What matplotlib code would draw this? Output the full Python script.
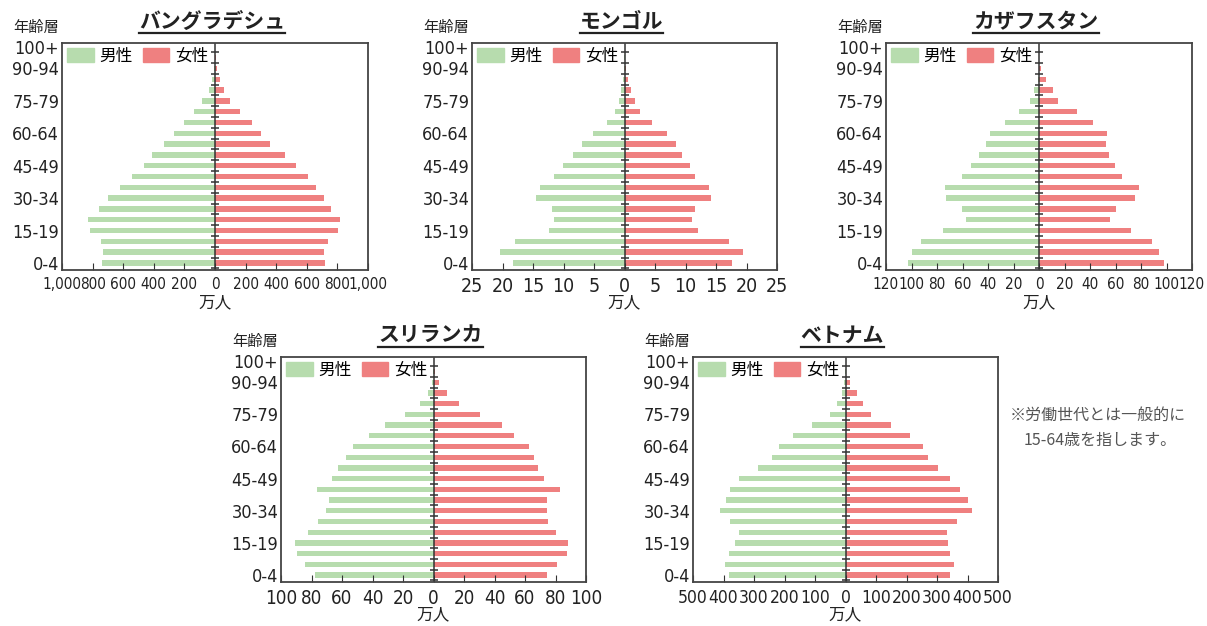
import numpy as np
import matplotlib.pyplot as plt
from matplotlib.patches import Patch
from matplotlib.lines import Line2D

plt.rcParams['font.family'] = ['Noto Sans CJK JP', 'DejaVu Sans']

# 年齢層 (0-4 ... 100+), 21区分
age_groups = ['0-4', '5-9', '10-14', '15-19', '20-24', '25-29', '30-34', '35-39',
              '40-44', '45-49', '50-54', '55-59', '60-64', '65-69', '70-74',
              '75-79', '80-84', '85-89', '90-94', '95-99', '100+']
age_labels = ['0-4', '15-19', '30-34', '45-49', '60-64', '75-79', '90-94', '100+']

# 単位: 万人
bangladesh_m = [741, 735, 748, 817, 828, 757, 698, 620, 541, 463, 409, 335, 265,
                204, 139, 83, 39, 17, 6, 2, 0]
bangladesh_f = [720, 711, 737, 807, 820, 759, 715, 663, 611, 530, 459, 357, 298,
                241, 161, 98, 59, 30, 12, 4, 1]
mongolia_m = [18.3, 20.4, 17.9, 12.4, 11.6, 11.9, 14.5, 13.9, 11.6, 10.1, 8.5,
              6.9, 5.2, 2.9, 1.5, 0.9, 0.65, 0.3, 0.1, 0.05, 0]
mongolia_f = [17.7, 19.5, 17.2, 12.0, 11.1, 11.6, 14.2, 13.8, 11.6, 10.7, 9.4,
              8.4, 7.0, 4.5, 2.6, 1.7, 1.1, 0.6, 0.25, 0.05, 0]
kazakhstan_m = [103, 100, 92.7, 75, 57.6, 60.4, 73.2, 73.7, 60.4, 53.4, 47.4,
                41.7, 38.8, 26.8, 15.6, 6.8, 3.9, 1.0, 0.3, 0.1, 0]
kazakhstan_f = [97.9, 94.5, 88.3, 72.1, 55.7, 60.7, 75.3, 78.6, 65.1, 59.6, 55.2,
                52.3, 53.1, 42.2, 29.9, 15.1, 10.9, 5.2, 1.3, 0.3, 0]
srilanka_m = [78, 84, 89.7, 91, 82.4, 75.6, 70.3, 68.4, 76.7, 66.6, 62.6, 57.6,
              53, 42.4, 31.9, 18.5, 8.6, 3.5, 1.3, 0.3, 0]
srilanka_f = [74.5, 81.1, 87.3, 88.4, 80.2, 75.2, 74.5, 74.5, 82.9, 72.3, 68.4,
              65.7, 62.9, 53, 45, 30.5, 16.9, 8.6, 3.3, 0.8, 0.2]
vietnam_m = [382, 395, 382, 361, 348, 379, 411, 391, 380, 349, 287, 241, 217,
             173, 109, 51, 28, 13, 5, 1, 0]
vietnam_f = [344, 356, 344, 336, 334, 367, 415, 402, 377, 344, 302, 270, 254,
             213, 150, 85, 56, 37, 16, 3, 1]

GREEN = '#b7dcae'
RED = '#ef8080'
W, H = 1207, 626

fig = plt.figure(figsize=(W / 100, H / 100), dpi=100)


def pyramid(box, title, male, female, lim, step, xsize, comma=False):
    l, t, w, h = box
    ax = fig.add_axes([l / W, 1 - (t + h) / H, w / W, h / H])
    y = np.arange(len(age_groups))
    ax.barh(y, -np.array(male), height=0.5, color=GREEN)
    ax.barh(y, female, height=0.5, color=RED)
    ax.set_xlim(-lim, lim)
    ax.set_ylim(-0.65, 20.35)
    ax.axvline(0, color='#333333', lw=1.1)
    ax.plot(np.zeros(len(y) + 1), np.arange(len(y) + 1) - 0.5, ls='none',
            marker='_', ms=6, mew=1.1, color='#333333')
    ticks = np.arange(-lim, lim + step / 2, step)
    ax.set_xticks(ticks)
    if comma:
        ax.set_xticklabels(['{:,}'.format(int(abs(v))) for v in ticks])
    else:
        ax.set_xticklabels([str(int(abs(v))) for v in ticks])
    ax.set_yticks([age_groups.index(a) for a in age_labels])
    ax.set_yticklabels(age_labels)
    ax.tick_params(axis='x', direction='in', length=5, labelsize=xsize,
                   pad=5, color='#333333', labelcolor='#222222')
    ax.tick_params(axis='y', length=0, labelsize=13, pad=2, labelcolor='#222222')
    for lab in ax.get_xticklabels() + ax.get_yticklabels():
        lab.set_family('DejaVu Sans')
        lab.set_fontstretch('condensed')
    for s in ax.spines.values():
        s.set_color('#444444')
        s.set_linewidth(1.3)
    ax.text(0, -33 / h, '万人', transform=ax.get_xaxis_transform(), ha='center',
            va='center', fontsize=12, color='#222222')
    ax.text(-0.01, 1.07, '年齢層', transform=ax.transAxes, ha='right', va='center',
            fontsize=11, color='#222222')
    tt = ax.text(0.49, 1.095, title, transform=ax.transAxes, ha='center',
                 va='center', fontsize=15, fontweight='bold', color='#222222')
    handles = [Patch(color=GREEN, label='男性'), Patch(color=RED, label='女性')]
    ax.legend(handles=handles, loc='upper left', ncol=2, frameon=False,
              prop={'family': 'Noto Sans CJK JP', 'size': 12},
              handlelength=1.6, handleheight=0.9, handletextpad=0.35,
              columnspacing=0.6, borderaxespad=0.2, borderpad=0.1)
    return ax, tt


panels = [
    ((62, 43, 306, 227), 'バングラデシュ', bangladesh_m, bangladesh_f, 1000, 200, 11, True),
    ((472, 43, 305, 227), 'モンゴル', mongolia_m, mongolia_f, 25, 5, 14),
    ((886, 43, 306, 227), 'カザフスタン', kazakhstan_m, kazakhstan_f, 120, 20, 11),
    ((281, 357, 305, 225), 'スリランカ', srilanka_m, srilanka_f, 100, 20, 13.5),
    ((693, 357, 305, 225), 'ベトナム', vietnam_m, vietnam_f, 500, 100, 12.5),
]
titles = []
for p in panels:
    titles.append(pyramid(*p))

fig.text(1010 / W, 1 - 415 / H, '※労働世代とは一般的に', fontsize=11.5, color='#555555',
         va='center')
fig.text(1024 / W, 1 - 440 / H, '15-64歳を指します。', fontsize=11.5, color='#555555',
         va='center')

# タイトルの下線
fig.canvas.draw()
r = fig.canvas.get_renderer()
for ax, tt in titles:
    bb = tt.get_window_extent(r)
    yl = bb.y0 - 1
    fig.add_artist(Line2D([bb.x0 / W, bb.x1 / W], [yl / H, yl / H],
                          color='#222222', lw=1.6))

fig.savefig('out.png', dpi=100)
